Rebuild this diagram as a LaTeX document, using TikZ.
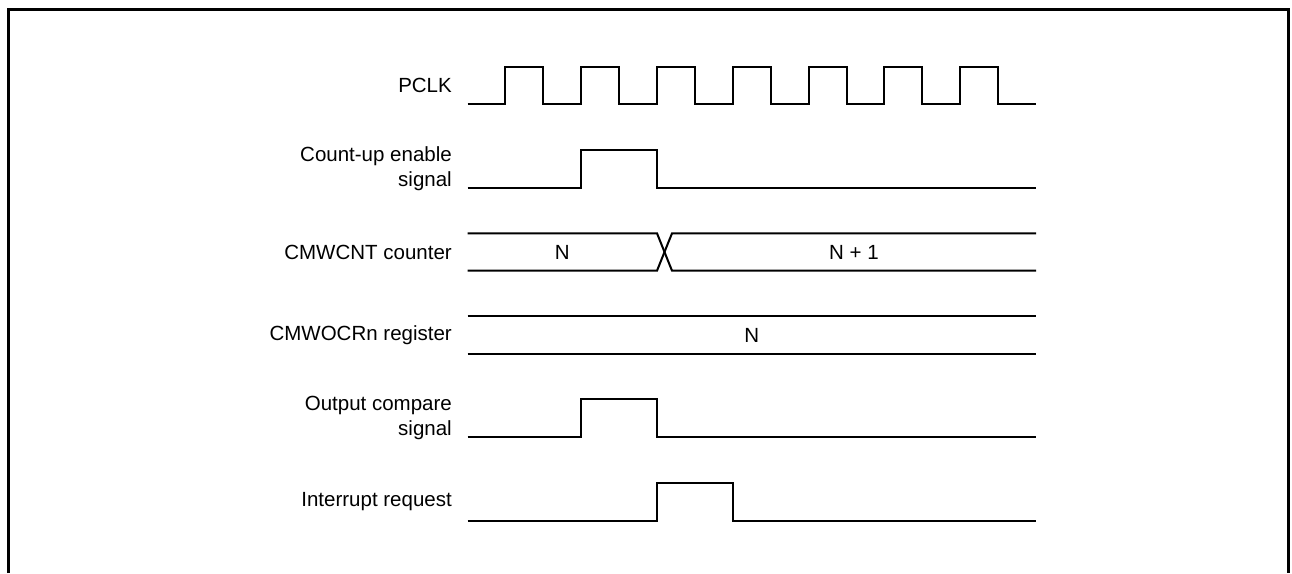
\documentclass[tikz,border=0pt]{standalone}
\usepackage{fontspec}
\setmainfont{Liberation Sans}
\usetikzlibrary{positioning}
\tikzset{
  sig/.style={line width=2pt, line join=miter},
  siglabel/.style={anchor=east, align=right, inner sep=0pt, font=\fontsize{20.5}{25}\selectfont},
  busval/.style={inner sep=0pt, font=\fontsize{20.5}{25}\selectfont}
}
\def\tz{467.5}
\def\hp{37.9}

\begin{document}
\begin{tikzpicture}[x=1pt, y=-1pt]
  \useasboundingbox (0,0) rectangle (1292,573);

  % frame, open at the bottom
  \draw[line width=3pt] (8,573) -- (8,9) -- (1288,9) -- (1288,573);

  % signal names
  \node[siglabel] (pclk) at (452,85.5) {PCLK};
  \node[siglabel] (cntup) at (452,169) {Count-up enable\\signal};
  \node[siglabel] (cmwcnt) at (452,252) {CMWCNT counter};
  \node[siglabel] (cmwocr) at (452,335) {CMWOCRn register};
  \node[siglabel] (ocmp) at (452,418) {Output compare\\signal};
  \node[siglabel] (irq) at (452,502) {Interrupt request};

  % PCLK
  \draw[sig] (\tz,104.2) \foreach \i in {1,...,7} {
      -- ++(\hp,0) -- ++(0,-37.4) -- ++(\hp,0) -- ++(0,37.4) } -- ++(\hp,0);

  % count-up enable
  \draw[sig] (\tz,187.7) -- ++(3*\hp,0) -- ++(0,-37.4) -- ++(2*\hp,0)
    -- ++(0,37.4) -- (\tz+15*\hp,187.7);

  % CMWCNT counter
  \draw[sig] (\tz,233.3) -- (\tz+5*\hp,233.3) -- (\tz+5*\hp+15,270.7) -- (\tz+15*\hp,270.7);
  \draw[sig] (\tz,270.7) -- (\tz+5*\hp,270.7) -- (\tz+5*\hp+15,233.3) -- (\tz+15*\hp,233.3);
  \node[busval] (cntold) at (\tz+2.5*\hp,252) {N};
  \node[busval] (cntnew) at (\tz+10*\hp+7.5,252) {N + 1};

  % CMWOCRn register
  \draw[sig] (\tz,316.3) -- (\tz+15*\hp,316.3);
  \draw[sig] (\tz,353.7) -- (\tz+15*\hp,353.7);
  \node[busval] (ocrval) at (\tz+7.5*\hp,335) {N};

  % output compare
  \draw[sig] (\tz,436.7) -- ++(3*\hp,0) -- ++(0,-37.4) -- ++(2*\hp,0)
    -- ++(0,37.4) -- (\tz+15*\hp,436.7);

  % interrupt request
  \draw[sig] (\tz,520.7) -- ++(5*\hp,0) -- ++(0,-37.4) -- ++(2*\hp,0)
    -- ++(0,37.4) -- (\tz+15*\hp,520.7);
\end{tikzpicture}
\end{document}
